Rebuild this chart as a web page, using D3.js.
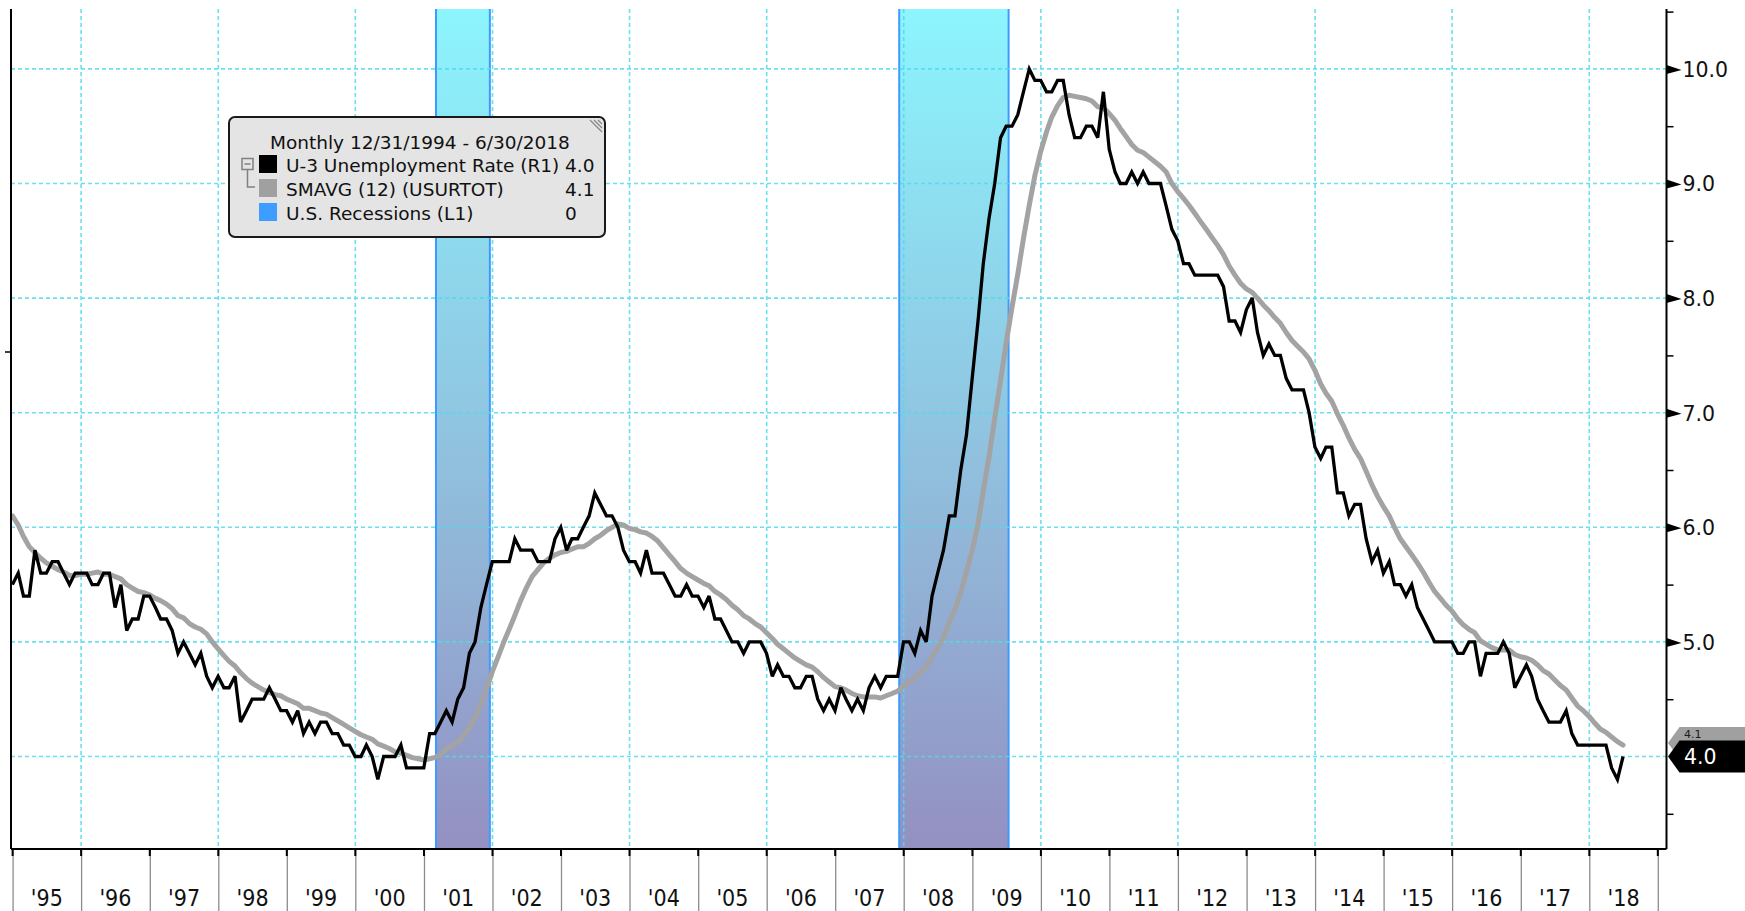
<!DOCTYPE html>
<html><head><meta charset="utf-8">
<script src="https://cdn.jsdelivr.net/npm/d3@7"></script>
<style>html,body{margin:0;padding:0;background:#fff;overflow:hidden} svg{display:block}</style>
</head><body>
<svg id="chart" width="1745" height="911"></svg>
<script>
// ---------------- DATA ----------------
// Monthly, first value = Dec 1994 (12/31/1994), last = Jun 2018
const firstMonth = { year: 1994, month: 12 };
const unemploymentRate = [5.5,
5.6,5.4,5.4,5.8,5.6,5.6,5.7,5.7,5.6,5.5,5.6,5.6,
5.6,5.5,5.5,5.6,5.6,5.3,5.5,5.1,5.2,5.2,5.4,5.4,
5.3,5.2,5.2,5.1,4.9,5.0,4.9,4.8,4.9,4.7,4.6,4.7,
4.6,4.6,4.7,4.3,4.4,4.5,4.5,4.5,4.6,4.5,4.4,4.4,
4.3,4.4,4.2,4.3,4.2,4.3,4.3,4.2,4.2,4.1,4.1,4.0,
4.0,4.1,4.0,3.8,4.0,4.0,4.0,4.1,3.9,3.9,3.9,3.9,
4.2,4.2,4.3,4.4,4.3,4.5,4.6,4.9,5.0,5.3,5.5,5.7,
5.7,5.7,5.7,5.9,5.8,5.8,5.8,5.7,5.7,5.7,5.9,6.0,
5.8,5.9,5.9,6.0,6.1,6.3,6.2,6.1,6.1,6.0,5.8,5.7,
5.7,5.6,5.8,5.6,5.6,5.6,5.5,5.4,5.4,5.5,5.4,5.4,
5.3,5.4,5.2,5.2,5.1,5.0,5.0,4.9,5.0,5.0,5.0,4.9,
4.7,4.8,4.7,4.7,4.6,4.6,4.7,4.7,4.5,4.4,4.5,4.4,
4.6,4.5,4.4,4.5,4.4,4.6,4.7,4.6,4.7,4.7,4.7,5.0,
5.0,4.9,5.1,5.0,5.4,5.6,5.8,6.1,6.1,6.5,6.8,7.3,
7.8,8.3,8.7,9.0,9.4,9.5,9.5,9.6,9.8,10.0,9.9,9.9,
9.8,9.8,9.9,9.9,9.6,9.4,9.4,9.5,9.5,9.4,9.8,9.3,
9.1,9.0,9.0,9.1,9.0,9.1,9.0,9.0,9.0,8.8,8.6,8.5,
8.3,8.3,8.2,8.2,8.2,8.2,8.2,8.1,7.8,7.8,7.7,7.9,
8.0,7.7,7.5,7.6,7.5,7.5,7.3,7.2,7.2,7.2,7.0,6.7,
6.6,6.7,6.7,6.3,6.3,6.1,6.2,6.2,5.9,5.7,5.8,5.6,
5.7,5.5,5.5,5.4,5.5,5.3,5.2,5.1,5.0,5.0,5.0,5.0,
4.9,4.9,5.0,5.0,4.7,4.9,4.9,4.9,5.0,4.9,4.6,4.7,
4.8,4.7,4.5,4.4,4.3,4.3,4.3,4.4,4.2,4.1,4.1,4.1,
4.1,4.1,4.1,3.9,3.8,4.0];

const smavg12 = [6.10,
6.02,5.92,5.83,5.78,5.73,5.69,5.66,5.63,5.61,5.58,5.58,5.59,
5.59,5.60,5.61,5.59,5.59,5.57,5.55,5.50,5.47,5.44,5.43,5.41,
5.38,5.36,5.33,5.29,5.23,5.21,5.16,5.13,5.11,5.07,5.00,4.94,
4.88,4.83,4.79,4.73,4.68,4.64,4.61,4.58,4.56,4.54,4.53,4.50,
4.48,4.46,4.42,4.42,4.40,4.38,4.37,4.34,4.31,4.28,4.25,4.22,
4.19,4.17,4.15,4.11,4.09,4.07,4.04,4.03,4.01,3.99,3.98,3.97,
3.98,3.99,4.02,4.07,4.09,4.13,4.18,4.25,4.34,4.46,4.59,4.74,
4.87,4.99,5.11,5.23,5.36,5.47,5.57,5.63,5.69,5.73,5.76,5.78,
5.79,5.81,5.83,5.83,5.86,5.90,5.93,5.97,6.00,6.03,6.02,5.99,
5.98,5.96,5.95,5.92,5.88,5.82,5.76,5.70,5.64,5.60,5.57,5.54,
5.51,5.49,5.44,5.41,5.37,5.32,5.28,5.23,5.20,5.16,5.13,5.08,
5.03,4.98,4.94,4.90,4.86,4.83,4.80,4.78,4.74,4.69,4.65,4.61,
4.60,4.58,4.55,4.53,4.52,4.52,4.52,4.51,4.53,4.55,4.57,4.62,
4.65,4.68,4.74,4.78,4.87,4.95,5.04,5.17,5.28,5.43,5.61,5.80,
6.03,6.32,6.62,6.95,7.28,7.61,7.92,8.21,8.52,8.81,9.07,9.28,
9.45,9.58,9.68,9.75,9.77,9.76,9.75,9.74,9.72,9.67,9.66,9.61,
9.55,9.48,9.41,9.34,9.29,9.27,9.23,9.19,9.15,9.10,9.00,8.93,
8.87,8.81,8.74,8.67,8.60,8.53,8.46,8.38,8.28,8.20,8.13,8.08,
8.05,8.00,7.94,7.89,7.83,7.78,7.70,7.63,7.58,7.53,7.47,7.37,
7.25,7.17,7.10,6.99,6.89,6.78,6.68,6.60,6.49,6.37,6.27,6.18,
6.10,6.00,5.90,5.83,5.76,5.69,5.61,5.52,5.44,5.38,5.32,5.27,
5.20,5.15,5.11,5.08,5.01,4.98,4.95,4.93,4.93,4.93,4.89,4.87,
4.86,4.84,4.80,4.75,4.72,4.67,4.62,4.58,4.51,4.44,4.40,4.35,
4.29,4.24,4.21,4.17,4.13,4.10];

// U.S. recession shading (start, end) as drawn
const recessionStarts = ["2001-03-06", "2007-12-08"];
const recessionEnds   = ["2001-12-18", "2009-07-13"];

const yMajorTicks = [4, 5, 6, 7, 8, 9, 10];
const yMinorTicks = [3.5, 4.5, 5.5, 6.5, 7.5, 8.5, 9.5, 10.5];
const yearTicks = d3.range(1995, 2020);        // year boundaries
const yearLabels = d3.range(1995, 2019);       // '95 ... '18
const gridYears = d3.range(1996, 2019, 2);     // dashed vertical grid

const legendTitle = "Monthly 12/31/1994 - 6/30/2018";
const legendNames = ["U-3 Unemployment Rate (R1)", "SMAVG (12) (USURTOT)", "U.S. Recessions (L1)"];
const legendValues = ["4.0", "4.1", "0"];
const legendColors = ["#000000", "#a0a0a0", "#3d9eff"];
const lastValues = [4.0, 4.1];

// ---------------- LAYOUT ----------------
const svg = d3.select("#chart");
const P = { left: 11, right: 1666.5, top: 9, bottom: 849 };
const utc = s => { const [a,b,c] = s.split("-").map(Number); return new Date(Date.UTC(a, b-1, c)); };
const monthEnd = i => new Date(Date.UTC(firstMonth.year, firstMonth.month + i, 0));

const x = d3.scaleUtc()
  .domain([new Date(Date.UTC(1995,0,1)), new Date(Date.UTC(2019,0,1))])
  .range([12.6, 1657.8]);
const y = d3.scaleLinear().domain([4, 10]).range([756.5, 68.9]);

const defs = svg.append("defs");
const grad = defs.append("linearGradient").attr("id","recGrad")
  .attr("gradientUnits","userSpaceOnUse").attr("x1",0).attr("x2",0).attr("y1",P.top).attr("y2",P.bottom);
grad.append("stop").attr("offset",0).attr("stop-color","#8cf5fe");
grad.append("stop").attr("offset",0.5).attr("stop-color","#90c4e0");
grad.append("stop").attr("offset",1).attr("stop-color","#9490c2");
defs.append("clipPath").attr("id","plotClip").append("rect")
  .attr("x",P.left).attr("y",P.top).attr("width",P.right-P.left).attr("height",P.bottom-P.top);

// recession bands
const bands = svg.append("g");
recessionStarts.forEach((s, i) => {
  const x0 = x(utc(s)), x1 = x(utc(recessionEnds[i]));
  bands.append("rect").attr("x", x0).attr("y", P.top).attr("width", x1 - x0).attr("height", P.bottom - P.top)
    .attr("fill", "url(#recGrad)");
  [x0, x1].forEach(xx => bands.append("line").attr("x1", xx).attr("x2", xx).attr("y1", P.top).attr("y2", P.bottom)
    .attr("stroke", "#3d9bff").attr("stroke-width", 2));
});

// grid
const grid = svg.append("g").attr("stroke", "#4fdcec").attr("stroke-width", 1.6)
  .attr("stroke-dasharray", "4,3").attr("opacity", 0.85);
grid.selectAll("line.h").data(yMajorTicks).join("line").attr("class","h")
  .attr("x1", P.left).attr("x2", P.right).attr("y1", d => y(d)).attr("y2", d => y(d));
grid.selectAll("line.v").data(gridYears).join("line").attr("class","v")
  .attr("x1", d => x(new Date(Date.UTC(d,0,1)))).attr("x2", d => x(new Date(Date.UTC(d,0,1))))
  .attr("y1", P.top).attr("y2", P.bottom);

// series
const dataU = unemploymentRate.map((v, i) => ({ date: monthEnd(i), v }));
const dataS = smavg12.map((v, i) => ({ date: monthEnd(i), v }));
const line = d3.line().x(d => x(d.date)).y(d => y(d.v));
const series = svg.append("g").attr("clip-path", "url(#plotClip)");
series.append("path").datum(dataS).attr("d", line).attr("fill","none")
  .attr("stroke","#a3a3a3").attr("stroke-width",5).attr("stroke-linejoin","round").attr("stroke-linecap","round");
series.append("path").datum(dataU).attr("d", line).attr("fill","none")
  .attr("stroke","#000").attr("stroke-width",3.3).attr("stroke-linejoin","miter").attr("stroke-miterlimit",3);

// ---------------- AXES ----------------
// x axis: long gray tick lines + black stubs
const yearDates = yearTicks.map(yr => new Date(Date.UTC(yr,0,1)));
svg.append("g").attr("transform", `translate(0,${P.bottom})`)
  .call(d3.axisBottom(x).tickValues(yearDates).tickSize(62).tickFormat(""))
  .call(g => g.select(".domain").remove())
  .call(g => g.selectAll(".tick line").attr("stroke", "#8c8c8c").attr("stroke-width", 1.3));
svg.append("g").selectAll("line").data(yearDates).join("line")
  .attr("x1", d => x(d)).attr("x2", d => x(d)).attr("y1", P.bottom).attr("y2", P.bottom + 7)
  .attr("stroke", "#000").attr("stroke-width", 2);
svg.append("g").selectAll("text").data(yearLabels).join("text")
  .attr("x", d => (x(new Date(Date.UTC(d,0,1))) + x(new Date(Date.UTC(d+1,0,1)))) / 2)
  .attr("y", 906).attr("text-anchor", "middle")
  .attr("font-family", "'DejaVu Sans Condensed', 'Liberation Sans Narrow', sans-serif")
  .attr("font-size", 23).attr("fill", "#111")
  .text(d => "'" + String(d).slice(2));

// frame lines
svg.append("line").attr("x1", P.left).attr("x2", P.right).attr("y1", P.bottom).attr("y2", P.bottom)
  .attr("stroke", "#000").attr("stroke-width", 2);
svg.append("line").attr("x1", P.left).attr("x2", P.left).attr("y1", P.top).attr("y2", P.bottom)
  .attr("stroke", "#000").attr("stroke-width", 2);
svg.append("line").attr("x1", P.right).attr("x2", P.right).attr("y1", P.top).attr("y2", P.bottom)
  .attr("stroke", "#000").attr("stroke-width", 2);
// left (L1) axis tick
svg.append("line").attr("x1", 5).attr("x2", P.left).attr("y1", 352).attr("y2", 352)
  .attr("stroke", "#000").attr("stroke-width", 1.5);

// right axis (R1)
const yAxisG = svg.append("g").attr("transform", `translate(${P.right},0)`)
  .call(d3.axisRight(y).tickValues(yMajorTicks).tickSize(0).tickPadding(16).tickFormat(d3.format(".1f")))
  .call(g => g.select(".domain").remove());
yAxisG.selectAll(".tick text").attr("font-family", "'DejaVu Sans', sans-serif")
  .attr("font-size", 20.5).attr("fill", "#111").attr("dy", "0.36em");
yAxisG.selectAll(".tick").filter(d => d !== 4).append("path")
  .attr("d", "M0,-4.5L15,0.5L0,4.5Z").attr("fill", "#000");
yAxisG.selectAll(".tick").filter(d => d === 4).select("text").remove();
svg.append("g").attr("transform", `translate(${P.right},0)`)
  .call(d3.axisRight(y).tickValues(yMinorTicks).tickSize(7).tickFormat(""))
  .call(g => g.select(".domain").remove())
  .call(g => g.selectAll(".tick line").attr("stroke", "#000").attr("stroke-width", 1.5));

// last value tags
function tag(v, dy, fill, textFill, fontSize, baseDy) {
  const cy = y(v) + dy;
  const g = svg.append("g");
  g.append("path").attr("d", `M${P.right+1.5},${cy}L${P.right+13},${cy-16}L1750,${cy-16}L1750,${cy+16}L${P.right+13},${cy+16}Z`)
    .attr("fill", fill);
  g.append("text").attr("x", 1684).attr("y", cy + baseDy).attr("font-family", "'DejaVu Sans', sans-serif")
    .attr("font-size", fontSize).attr("fill", textFill).text(d3.format(".1f")(v));
}
tag(lastValues[1], -2, "#a0a0a0", "#1a1a1a", 11, -5.5);
tag(lastValues[0], 0, "#000", "#fff", 20.5, 7.5);

// ---------------- LEGEND ----------------
const L = svg.append("g").attr("transform", "translate(229,117)");
L.append("rect").attr("width", 376).attr("height", 120).attr("rx", 6)
  .attr("fill", "#e4e4e4").attr("stroke", "#1a1a1a").attr("stroke-width", 2);
[0,1,2].forEach(k => L.append("line").attr("x1", 361 + 4*k).attr("y1", 3).attr("x2", 373).attr("y2", 15 - 4*k)
  .attr("stroke", "#888").attr("stroke-width", 1.2));
L.append("text").attr("x", 41).attr("y", 32).attr("font-family", "'DejaVu Sans', sans-serif")
  .attr("font-size", 18.5).attr("fill", "#111").text(legendTitle);
// tree icon
L.append("rect").attr("x", 13).attr("y", 41.5).attr("width", 11).attr("height", 11)
  .attr("fill", "none").attr("stroke", "#808080").attr("stroke-width", 1.5);
L.append("line").attr("x1", 15.5).attr("x2", 21.5).attr("y1", 47).attr("y2", 47).attr("stroke", "#808080").attr("stroke-width", 1.5);
L.append("path").attr("d", "M18.5,52.5V70H26").attr("fill", "none").attr("stroke", "#808080").attr("stroke-width", 1.5);
legendNames.forEach((name, i) => {
  const top = 38 + i * 24;
  L.append("rect").attr("x", 30).attr("y", top).attr("width", 18).attr("height", 18).attr("fill", legendColors[i]);
  L.append("text").attr("x", 57).attr("y", top + 17).attr("font-family", "'DejaVu Sans', sans-serif")
    .attr("font-size", 18.5).attr("fill", "#111").text(name);
  L.append("text").attr("x", 336).attr("y", top + 17).attr("font-family", "'DejaVu Sans', sans-serif")
    .attr("font-size", 18.5).attr("fill", "#111").text(legendValues[i]);
});
</script>
</body></html>
